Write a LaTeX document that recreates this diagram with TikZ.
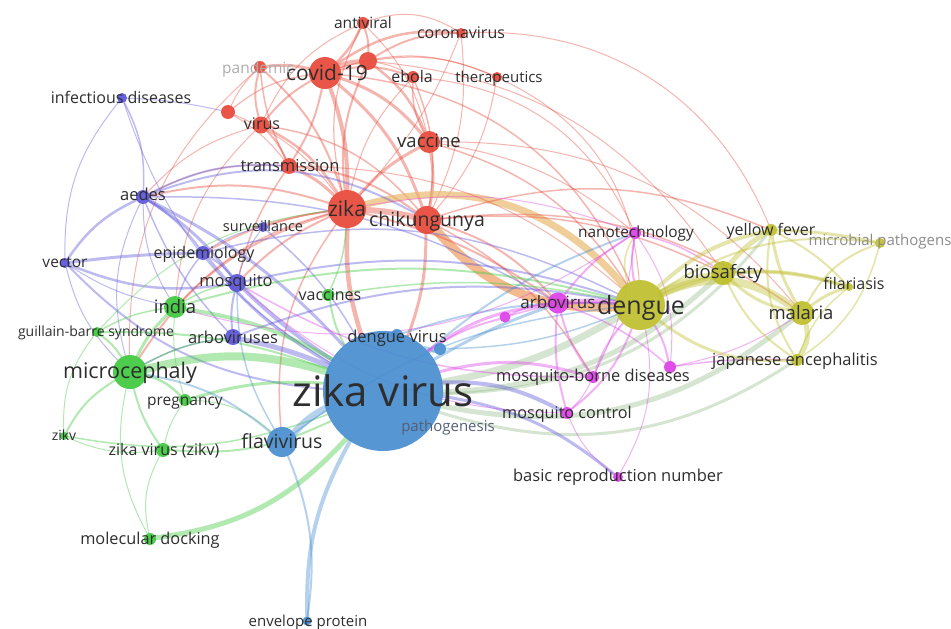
\documentclass[tikz,border=0pt]{standalone}
\usepackage{fontspec}
\setmainfont{Open Sans}
\usetikzlibrary{backgrounds}
\definecolor{cR}{RGB}{232,72,56}
\definecolor{cG}{RGB}{62,200,62}
\definecolor{cB}{RGB}{72,142,208}
\definecolor{cY}{RGB}{190,190,45}
\definecolor{cP}{RGB}{92,84,218}
\definecolor{cM}{RGB}{222,64,232}
\definecolor{cO}{RGB}{238,150,85}
\definecolor{cOY}{RGB}{232,180,100}
\definecolor{cT}{RGB}{150,190,140}
\definecolor{cPat}{RGB}{85,95,120}
\tikzset{
  nd/.style 2 args={circle,fill=#1,minimum size=#2pt,inner sep=0pt,fill opacity=0.92},
  lb/.style={font=\fontsize{#1}{#1}\selectfont,text=black!82,inner sep=0pt,anchor=base,yshift=-0.36*#1pt},
}
\newcommand\lk[5]{\draw[draw=#1,line width=#2pt,draw opacity=0.4,line cap=round] (#4) to[bend right=#3] (#5);}
\newcommand\lkk[5]{\draw[draw=#1,line width=#2pt,draw opacity=0.65,line cap=round] (#4) to[bend right=#3] (#5);}
\begin{document}
\begin{tikzpicture}[x={(1pt,0)},y={(0,-1pt)}]
\useasboundingbox (0,0) rectangle (951,629);
% ---------- nodes (circles)
% red
\node[nd={cR}{12}] (av) at (363,23) {};
\node[nd={cR}{10}] (cv) at (461,33) {};
\node[nd={cR}{32}] (cov) at (325,73) {};
\node[nd={cR}{18}] (rx) at (368,61) {};
\node[nd={cR}{12}] (pan) at (260,67) {};
\node[nd={cR}{12}] (eb) at (413,77) {};
\node[nd={cR}{10}] (th) at (497,77) {};
\node[nd={cR}{14}] (rtwo) at (228,112) {};
\node[nd={cR}{17}] (vi) at (261,125) {};
\node[nd={cR}{22}] (vac) at (429,142) {};
\node[nd={cR}{16}] (tr) at (289,166) {};
\node[nd={cR}{38}] (zk) at (347,209) {};
\node[nd={cR}{28}] (ch) at (427,220) {};
% purple
\node[nd={cP}{10}] (infd) at (122,98) {};
\node[nd={cP}{14}] (aed) at (143,197) {};
\node[nd={cP}{10}] (surv) at (263,227) {};
\node[nd={cP}{14}] (epi) at (203,253) {};
\node[nd={cP}{10}] (vec) at (65,263) {};
\node[nd={cP}{18}] (mosq) at (237,283) {};
\node[nd={cP}{16}] (arbs) at (233,337) {};
% green
\node[nd={cG}{22}] (ind) at (175,307) {};
\node[nd={cG}{12}] (vcs) at (328,295) {};
\node[nd={cG}{10}] (gbs) at (97,332) {};
\node[nd={cG}{34}] (mic) at (130,372) {};
\node[nd={cG}{12}] (prg) at (185,400) {};
\node[nd={cG}{8}] (zikv) at (64,436) {};
\node[nd={cG}{14}] (zvz) at (163,450) {};
\node[nd={cG}{12}] (mold) at (150,539) {};
% blue
\node[nd={cB}{120}] (zv) at (383,391) {};
\node[nd={cB}{12}] (dv) at (397,335) {};
\node[nd={cB}{12}] (btwo) at (440,349) {};
\node[nd={cB}{30}] (fla) at (282,442) {};
\node[nd={cB}{9}] (env) at (307,621) {};
% magenta
\node[nd={cM}{21}] (arb) at (558,303) {};
\node[nd={cM}{12}] (nano) at (635,233) {};
\node[nd={cM}{11}] (mtwo) at (505,317) {};
\node[nd={cM}{12}] (mthree) at (670,367) {};
\node[nd={cM}{12}] (mbd) at (593,377) {};
\node[nd={cM}{12}] (mctl) at (567,413) {};
\node[nd={cM}{10}] (brn) at (618,477) {};
% yellow
\node[nd={cY}{50}] (den) at (640,305) {};
\node[nd={cY}{24}] (bio) at (723,273) {};
\node[nd={cY}{12}] (yf) at (771,230) {};
\node[nd={cY}{10}] (micp) at (880,243) {};
\node[nd={cY}{8}] (fil) at (849,287) {};
\node[nd={cY}{24}] (mal) at (802,313) {};
\node[nd={cY}{12}] (je) at (797,360) {};
% ---------- edges
\begin{pgfonlayer}{background}
\fill[white] (0,0) rectangle (951,629);
% red cluster
\lk{cR}{4}{-10}{cov}{zk}
\lk{cR}{3}{-15}{cov}{vac}
\lk{cR}{2.5}{10}{cov}{av}
\lk{cR}{2.5}{-20}{cov}{cv}
\lk{cR}{3}{10}{cov}{pan}
\lk{cR}{5}{-10}{cov}{rx}
\lk{cR}{2}{-15}{cov}{eb}
\lk{cR}{1.2}{-20}{cov}{th}
\lk{cR}{2}{10}{cov}{vi}
\lk{cR}{2}{-10}{cov}{tr}
\lk{cR}{3}{-15}{cov}{ch}
\lk{cR}{1.2}{15}{cov}{rtwo}
\lk{cR}{2}{10}{rx}{av}
\lk{cR}{2}{-15}{rx}{cv}
\lk{cR}{2.5}{-15}{rx}{vac}
\lk{cR}{2}{15}{rx}{zk}
\lk{cR}{1}{-15}{rx}{th}
\lk{cR}{1}{-10}{rx}{eb}
\lk{cR}{2}{15}{pan}{vi}
\lk{cR}{2}{-15}{pan}{zk}
\lk{cR}{1.5}{10}{pan}{tr}
\lk{cR}{1}{10}{pan}{rtwo}
\lk{cR}{2}{-10}{vi}{tr}
\lk{cR}{2.5}{-15}{vi}{zk}
\lk{cR}{1.5}{-20}{vi}{ch}
\lk{cR}{1}{-10}{rtwo}{tr}
\lk{cR}{1}{-15}{rtwo}{zk}
\lk{cP}{1}{-5}{infd}{rtwo}
\lk{cR}{3}{-10}{tr}{zk}
\lk{cR}{2}{-15}{tr}{ch}
\lk{cR}{3}{10}{vac}{zk}
\lk{cR}{3}{-10}{vac}{ch}
\lk{cR}{1.5}{-15}{vac}{eb}
\lk{cR}{1}{15}{vac}{av}
\lk{cR}{1}{15}{eb}{zk}
\lk{cR}{1.5}{-15}{eb}{ch}
\lk{cR}{1.2}{20}{av}{zk}
\lk{cR}{1}{-10}{cv}{zk}
\lk{cR}{1}{-15}{cv}{ch}
\lk{cR}{1}{-15}{th}{ch}
\lk{cR}{1}{20}{av}{vi}
\lk{cR}{1}{-25}{av}{cv}
\lk{cR}{6}{-5}{zk}{ch}
\lk{cR}{1}{-35}{cv}{yf}
\lk{cR}{1}{-30}{th}{den}
\lk{cR}{1}{-30}{eb}{nano}
\lk{cR}{1}{-25}{rx}{bio}
% red to others
\lk{cR}{4.5}{10}{zk}{zv}
\lk{cR}{3}{-10}{ch}{zv}
\lkk{cOY}{7}{-32}{zk}{den}
\lkk{cO}{9}{26}{ch}{den}
\lk{cR}{2}{-10}{zk}{arb}
\lk{cR}{2}{-15}{ch}{arb}
\lk{cR}{2}{10}{zk}{mosq}
\lk{cR}{2}{15}{zk}{aed}
\lk{cR}{2}{10}{zk}{epi}
\lk{cR}{1.5}{5}{zk}{surv}
\lk{cR}{1.5}{15}{zk}{ind}
\lk{cR}{2}{20}{zk}{mic}
\lk{cR}{1.5}{20}{zk}{fla}
\lk{cR}{1.5}{-15}{ch}{mbd}
\lk{cR}{1.5}{-20}{ch}{mal}
\lk{cR}{1.5}{-15}{ch}{bio}
\lk{cR}{1.5}{-20}{ch}{yf}
\lk{cR}{1.5}{-20}{vac}{den}
\lk{cR}{1}{-25}{vac}{mal}
\lk{cR}{1}{-15}{vac}{nano}
\lk{cR}{1.5}{10}{tr}{mosq}
\lk{cR}{1}{15}{tr}{aed}
\lk{cR}{1}{-20}{tr}{den}
\lk{cR}{1}{15}{vi}{aed}
\lk{cR}{1.5}{-30}{cov}{den}
\lk{cR}{1}{20}{vi}{ind}
\lk{cR}{1}{25}{pan}{mic}
% purple
\lk{cP}{2.5}{15}{aed}{vec}
\lk{cP}{1.5}{15}{aed}{infd}
\lk{cP}{3}{-10}{aed}{mosq}
\lk{cP}{2}{-10}{aed}{epi}
\lk{cP}{3}{-10}{aed}{zv}
\lk{cP}{1.5}{10}{aed}{arbs}
\lk{cP}{1}{20}{aed}{mic}
\lk{cP}{1}{15}{aed}{ind}
\lk{cP}{2}{-25}{aed}{ch}
\lk{cP}{2}{-15}{aed}{tr}
\lk{cP}{2.5}{15}{vec}{mosq}
\lk{cP}{3}{-3}{vec}{epi}
\lk{cP}{2}{20}{vec}{zv}
\lk{cP}{1}{10}{vec}{ind}
\lk{cP}{1}{15}{vec}{mic}
\lk{cP}{1}{20}{infd}{zv}
\lk{cP}{1}{20}{infd}{vec}
\lk{cP}{1.5}{-10}{surv}{zv}
\lk{cP}{1}{10}{surv}{epi}
\lk{cP}{1}{10}{surv}{mosq}
\lk{cP}{2}{-10}{epi}{mosq}
\lk{cP}{3}{10}{epi}{zv}
\lk{cP}{1.5}{10}{epi}{ind}
\lk{cP}{4}{5}{mosq}{zv}
\lk{cP}{2}{10}{mosq}{arbs}
\lk{cP}{2}{-15}{mosq}{den}
\lk{cP}{1.5}{-20}{epi}{den}
\lk{cP}{5}{-5}{arbs}{zv}
\lk{cP}{2}{-15}{arbs}{den}
\lk{cP}{1.5}{10}{arbs}{mic}
\lk{cP}{1.5}{-15}{aed}{arb}
% green
\lk{cG}{8}{-15}{mic}{zv}
\lk{cG}{3}{-10}{mic}{ind}
\lk{cG}{2}{10}{mic}{gbs}
\lk{cG}{2.5}{-15}{mic}{prg}
\lk{cG}{2}{15}{mic}{zikv}
\lk{cG}{2}{10}{mic}{zvz}
\lk{cG}{1.5}{-10}{mic}{arbs}
\lk{cG}{4}{-10}{ind}{zv}
\lk{cG}{1.5}{10}{ind}{gbs}
\lk{cG}{1}{10}{ind}{prg}
\lk{cG}{2}{-15}{ind}{den}
\lk{cG}{1.5}{-10}{ind}{mosq}
\lk{cG}{2}{-10}{gbs}{zv}
\lk{cG}{3}{-10}{prg}{zv}
\lk{cG}{1}{10}{prg}{zvz}
\lk{cG}{1}{15}{zikv}{zvz}
\lk{cG}{1.5}{15}{zikv}{zv}
\lk{cG}{2}{15}{zvz}{zv}
\lk{cG}{1}{20}{zvz}{mold}
\lk{cG}{5}{20}{mold}{zv}
\lk{cG}{1}{-20}{mold}{mic}
\lk{cG}{2}{10}{vcs}{zv}
\lk{cG}{1.5}{10}{vcs}{zk}
\lk{cG}{1.5}{-10}{vcs}{den}
\lk{cG}{1}{20}{gbs}{zikv}
\lk{cG}{1}{-20}{gbs}{zk}
\lk{cG}{1}{-20}{prg}{fla}
% blue
\lk{cB}{7}{10}{zv}{fla}
\lk{cB}{4}{15}{zv}{env}
\lk{cB}{2}{-15}{fla}{env}
\lk{cB}{3}{10}{zv}{dv}
\lk{cB}{3}{-10}{zv}{btwo}
\lk{cT}{7}{10}{zv}{den}
\lk{cT}{5}{20}{zv}{bio}
\lk{cT}{5}{25}{zv}{mal}
\lk{cT}{3}{25}{zv}{yf}
\lk{cT}{3}{25}{zv}{je}
\lk{cB}{2}{-10}{zv}{nano}
\lk{cB}{3}{-5}{zv}{arb}
\lk{cB}{1.5}{-15}{fla}{den}
\lk{cB}{2}{15}{fla}{mic}
\lk{cB}{2}{-10}{dv}{den}
\lk{cB}{1.5}{10}{btwo}{den}
\lk{cB}{1.5}{-15}{fla}{mosq}
% magenta
\lk{cM}{5}{-5}{arb}{den}
\lk{cM}{2}{10}{arb}{mbd}
\lk{cM}{2}{10}{arb}{mctl}
\lk{cM}{2}{-10}{arb}{nano}
\lk{cM}{2}{10}{arb}{mtwo}
\lk{cM}{1.5}{-10}{arb}{mthree}
\lk{cM}{3}{15}{arb}{zv}
\lk{cP}{4}{15}{mctl}{zv}
\lk{cM}{3}{15}{mbd}{zv}
\lk{cP}{3}{15}{brn}{zv}
\lk{cM}{1}{-15}{brn}{mctl}
\lk{cM}{1}{20}{brn}{den}
\lk{cM}{2}{10}{mthree}{den}
\lk{cM}{1.5}{-5}{mthree}{je}
\lk{cM}{1}{10}{mthree}{mal}
\lk{cM}{2}{-10}{mbd}{den}
\lk{cM}{2}{15}{mctl}{den}
\lk{cM}{2}{10}{nano}{den}
\lk{cM}{1.5}{-10}{nano}{bio}
\lk{cM}{1}{-10}{nano}{mbd}
\lk{cM}{1}{15}{nano}{zk}
\lk{cM}{2}{10}{mtwo}{zv}
\lk{cM}{1.5}{-10}{mtwo}{den}
\lk{cM}{1.5}{-15}{mbd}{mosq}
\lk{cM}{1}{-20}{mctl}{mosq}
\lk{cM}{1}{10}{mctl}{mbd}
\lk{cM}{1}{-20}{nano}{mthree}
\lk{cM}{1}{-25}{nano}{ind}
% yellow
\lk{cY}{8}{-30}{den}{mal}
\lk{cY}{6}{-10}{den}{bio}
\lk{cY}{4}{-15}{den}{yf}
\lk{cY}{4}{-20}{den}{fil}
\lk{cY}{3}{20}{den}{je}
\lk{cY}{2}{-20}{den}{micp}
\lk{cY}{5}{-10}{bio}{yf}
\lk{cY}{3}{15}{bio}{mal}
\lk{cY}{2}{15}{bio}{je}
\lk{cY}{2}{-10}{bio}{fil}
\lk{cY}{3}{-5}{yf}{micp}
\lk{cY}{3}{10}{yf}{mal}
\lk{cY}{2}{-10}{yf}{fil}
\lk{cY}{2}{20}{yf}{je}
\lk{cY}{3}{-10}{mal}{fil}
\lk{cY}{5}{-25}{mal}{je}
\lk{cY}{2}{-20}{mal}{micp}
\lk{cY}{1.5}{-15}{je}{fil}
\lk{cY}{1.5}{-20}{micp}{je}
\lk{cY}{1.5}{-25}{den}{nano}
\end{pgfonlayer}
% ---------- labels
\node[lb=15.5] (l-av) at (363,23) {antiviral};
\node[lb=16] (l-cv) at (461,33) {coronavirus};
\node[lb=21] (l-cov) at (327,73) {covid-19};
\node[lb=15.5,text=black!32] (l-pan) at (258,68) {pandemic};
\node[lb=16] (l-eb) at (412,77) {ebola};
\node[lb=15] (l-th) at (499,77) {therapeutics};
\node[lb=16] (l-vi) at (262,124) {virus};
\node[lb=18.5] (l-vac) at (429,141) {vaccine};
\node[lb=16.5] (l-tr) at (290,166) {transmission};
\node[lb=21] (l-zk) at (347,209) {zika};
\node[lb=19.5] (l-ch) at (427,219) {chikungunya};
\node[lb=16] (l-infd) at (121,98) {infectious diseases};
\node[lb=16.5] (l-aed) at (143,195) {aedes};
\node[lb=14.5] (l-surv) at (263,226) {surveillance};
\node[lb=16] (l-epi) at (204,253) {epidemiology};
\node[lb=15.5] (l-vec) at (65,262) {vector};
\node[lb=16.5] (l-mosq) at (236,281) {mosquito};
\node[lb=16.5] (l-arbs) at (233,338) {arboviruses};
\node[lb=18.5] (l-ind) at (175,307) {india};
\node[lb=16] (l-vcs) at (330,295) {vaccines};
\node[lb=14] (l-gbs) at (96,331) {guillain-barre syndrome};
\node[lb=21.5] (l-mic) at (130,371) {microcephaly};
\node[lb=15.5] (l-prg) at (185,400) {pregnancy};
\node[lb=14] (l-zikv) at (64,435) {zikv};
\node[lb=16] (l-zvz) at (164,450) {zika virus (zikv)};
\node[lb=16.3] (l-mold) at (150,539) {molecular docking};
\node[lb=42] (l-zv) at (383,391) {zika virus};
\node[lb=16.5] (l-dv) at (397,337) {dengue virus};
\node[lb=19.5] (l-fla) at (282,441) {flavivirus};
\node[lb=15,text=cPat] (l-pat) at (448,426) {pathogenesis};
\node[lb=15] (l-env) at (308,621) {envelope protein};
\node[lb=17] (l-arb) at (558,302) {arbovirus};
\node[lb=15.4] (l-nano) at (636,232) {nanotechnology};
\node[lb=16.4] (l-mbd) at (593,376) {mosquito-borne diseases};
\node[lb=16.2] (l-mctl) at (567,413) {mosquito control};
\node[lb=16.5] (l-brn) at (618,476) {basic reproduction number};
\node[lb=25] (l-den) at (641,305) {dengue};
\node[lb=18.5] (l-bio) at (723,272) {biosafety};
\node[lb=16] (l-yf) at (771,230) {yellow fever};
\node[lb=15,text=black!45] (l-micp) at (880,240) {microbial pathogens};
\node[lb=16] (l-fil) at (854,284) {filariasis};
\node[lb=18.5] (l-mal) at (801,313) {malaria};
\node[lb=16.5] (l-je) at (795,360) {japanese encephalitis};
\end{tikzpicture}
\end{document}
